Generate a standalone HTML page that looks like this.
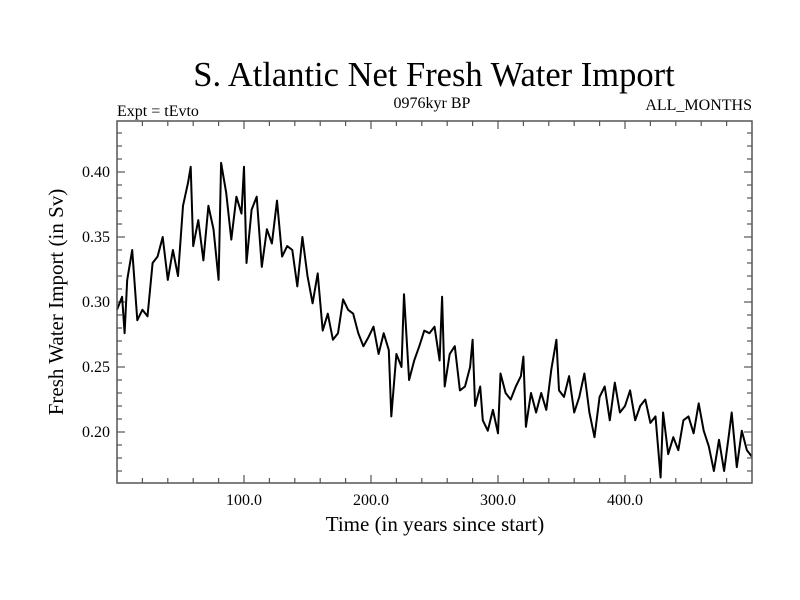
<!DOCTYPE html>
<html><head><meta charset="utf-8"><style>
body{margin:0;background:#fff;}
svg{display:block;font-family:"Liberation Serif",serif;}
</style></head><body>
<svg id="chart" width="800" height="600">
<rect width="800" height="600" fill="#fff"/>
<text x="434" y="86" font-size="34.5" text-anchor="middle">S. Atlantic Net Fresh Water Import</text>
<text x="117" y="116" font-size="16">Expt = tEvto</text>
<text x="432" y="108" font-size="16" text-anchor="middle">0976kyr BP</text>
<text x="752" y="110" font-size="16" text-anchor="end">ALL_MONTHS</text>
<text x="435" y="531" font-size="21" text-anchor="middle">Time (in years since start)</text>
<text transform="translate(63,302) rotate(-90)" font-size="21" text-anchor="middle">Fresh Water Import (in Sv)</text>
<g id="ticks"></g>
<g id="series"></g>
<rect x="117" y="121" width="635" height="362" fill="none" stroke="#555" stroke-width="1.5"/>
</svg>
<script>
const years=[0,4,6,8,12,16,20,24,28,32,36,40,44,48,52,56,58,60,64,68,72,76,80,82,86,90,94,98,100,102,106,110,114,118,122,126,130,134,138,142,146,150,154,158,162,166,170,174,178,182,186,190,194,198,202,206,210,214,216,220,224,226,230,234,238,242,246,250,254,256,258,262,266,270,274,278,280,282,286,288,292,296,300,302,306,310,314,318,320,322,326,330,334,338,342,346,348,352,356,360,364,368,372,376,380,384,388,392,396,400,404,408,412,416,420,424,428,430,434,438,442,446,450,454,458,462,466,470,474,478,482,484,488,492,496,500];
const values=[0.294,0.304,0.276,0.317,0.34,0.286,0.294,0.289,0.33,0.335,0.35,0.317,0.34,0.32,0.374,0.392,0.404,0.343,0.363,0.332,0.374,0.356,0.317,0.407,0.384,0.348,0.381,0.368,0.404,0.33,0.371,0.381,0.327,0.356,0.345,0.378,0.335,0.343,0.34,0.312,0.35,0.32,0.299,0.322,0.278,0.291,0.271,0.276,0.302,0.294,0.291,0.276,0.266,0.273,0.281,0.26,0.276,0.263,0.212,0.26,0.25,0.306,0.24,0.255,0.266,0.278,0.276,0.281,0.255,0.304,0.235,0.26,0.266,0.232,0.235,0.25,0.271,0.22,0.235,0.209,0.201,0.217,0.199,0.245,0.23,0.225,0.235,0.243,0.258,0.204,0.23,0.215,0.23,0.217,0.248,0.271,0.232,0.227,0.243,0.215,0.227,0.245,0.215,0.196,0.227,0.235,0.209,0.238,0.215,0.22,0.232,0.209,0.22,0.225,0.207,0.212,0.165,0.215,0.183,0.196,0.186,0.209,0.212,0.199,0.222,0.201,0.189,0.17,0.194,0.17,0.199,0.215,0.173,0.201,0.186,0.181];
const xTicks=[100,200,300,400];
const xTickLabels=["100.0","200.0","300.0","400.0"];
const yTicks=[0.20,0.25,0.30,0.35,0.40];
const yTickLabels=["0.20","0.25","0.30","0.35","0.40"];
const NS="http://www.w3.org/2000/svg";
const X0=117,X1=752,Y0=121,Y1=483;
function xs(v){return X0+(v-0)*(X1-X0)/500;}
function ys(v){return 432-(v-0.2)*1300;}
const tg=document.getElementById('ticks');
function line(x1,y1,x2,y2,name){const l=document.createElementNS(NS,'line');l.setAttribute('x1',x1);l.setAttribute('y1',y1);l.setAttribute('x2',x2);l.setAttribute('y2',y2);l.setAttribute('stroke','#555');l.setAttribute('stroke-width','1.2');


tg.appendChild(l);}
for(let t=20;t<500;t+=20){const big=t%100===0;const x=xs(t);line(x,Y1,x,Y1-(big?8:5),'x-tick');line(x,Y0,x,Y0+(big?8:5),'x-tick-top');}
for(let v=0.17;v<0.44;v+=0.01){const r=Math.round(v*100);const big=r%5===0;const y=ys(r/100);line(X0,y,X0+(big?8:5),y,'y-tick');line(X1,y,X1-(big?8:5),y,'y-tick-right');}
xTicks.forEach((t,i)=>{const e=document.createElementNS(NS,'text');e.setAttribute('x',xs(t));e.setAttribute('y',505);e.setAttribute('font-size','16');e.setAttribute('text-anchor','middle');e.textContent=xTickLabels[i];


tg.appendChild(e);});
yTicks.forEach((t,i)=>{const e=document.createElementNS(NS,'text');e.setAttribute('x',110);e.setAttribute('y',ys(t)+5);e.setAttribute('font-size','16');e.setAttribute('text-anchor','end');e.textContent=yTickLabels[i];


tg.appendChild(e);});
const p=document.createElementNS(NS,'polyline');
p.setAttribute('points',years.map((t,i)=>xs(t).toFixed(1)+','+ys(values[i]).toFixed(1)).join(' '));
p.setAttribute('fill','none');p.setAttribute('stroke','#000');p.setAttribute('stroke-width','2');p.setAttribute('stroke-linejoin','round');


document.getElementById('series').appendChild(p);
</script>
</body></html>
